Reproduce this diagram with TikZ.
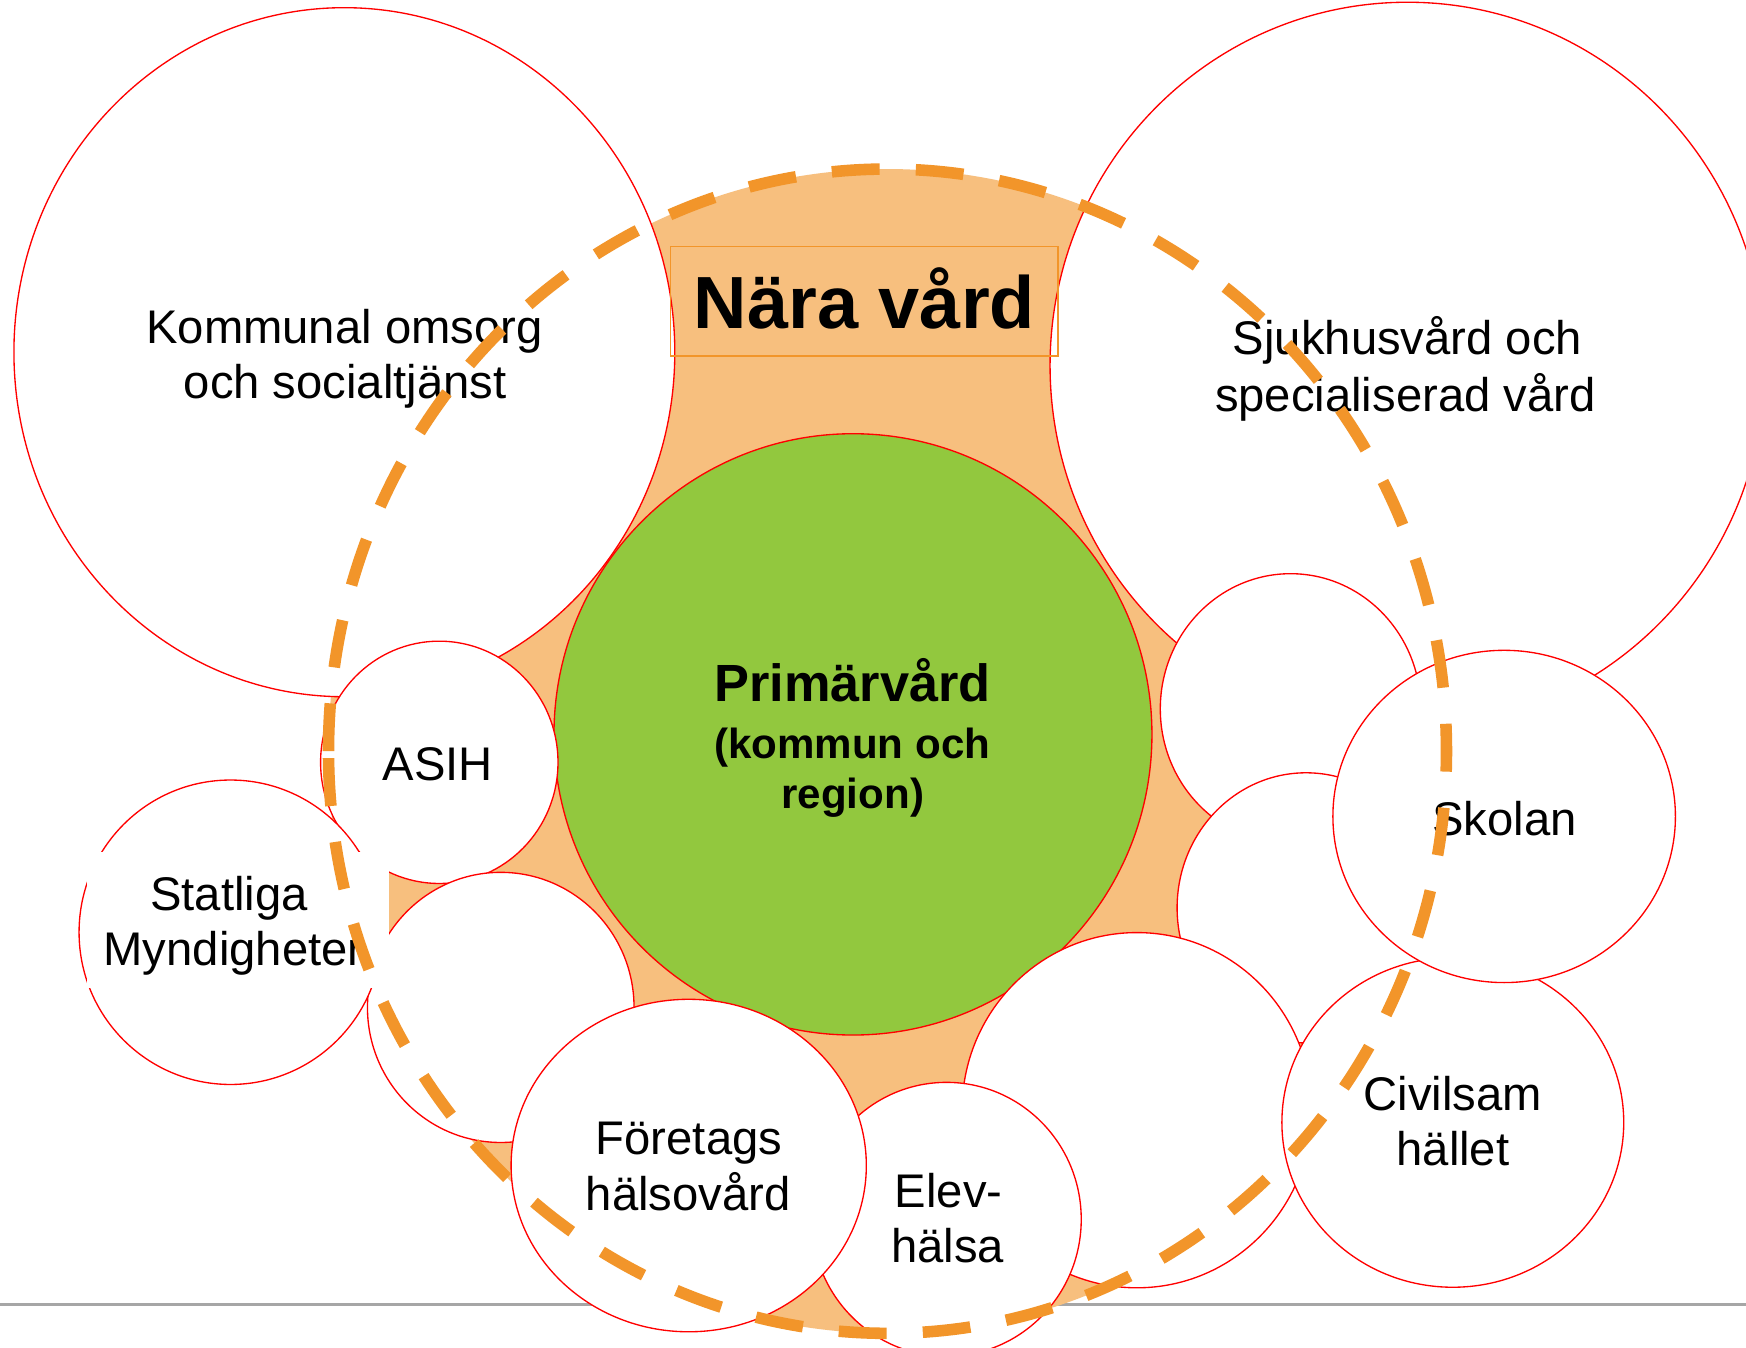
\documentclass[tikz,border=0pt]{standalone}
\usepackage{fontspec}
\setmainfont{Liberation Sans}
\usetikzlibrary{shapes.geometric}
\definecolor{bubred}{HTML}{FF0000}
\definecolor{primgreen}{HTML}{92C83E}
\definecolor{narafill}{HTML}{F7BF7E}
\definecolor{naradash}{HTML}{F2952A}
\definecolor{basegray}{HTML}{A6A6A6}
\begin{document}
\begin{tikzpicture}[x=0.5pt,y=-0.5pt,
  bubble/.style={ellipse, draw=bubred, line width=0.6pt, fill=white, inner sep=0pt, outer sep=0pt},
  lbl/.style={anchor=base, inner sep=0pt, font=\fontsize{21.2}{25}\selectfont},
  boldlbl/.style={anchor=base, inner sep=0pt, font=\fontsize{18.9}{22}\selectfont\bfseries},
  narastroke/.style={draw=naradash, line width=5.2pt, dash pattern=on 21.5pt off 16.25pt}]
\useasboundingbox (0,0) rectangle (1568,1210);
\fill[white] (0,0) rectangle (1568,1210);
% base line
\coordinate (gl) at (0,1171.4);
\coordinate (gr) at (1568,1171.4);
\draw[basegray, line width=1.3pt] (gl) -- (gr);
% orange area
\node[ellipse, fill=narafill, inner sep=0pt, outer sep=0pt, minimum width=502pt, minimum height=522.8pt] (naraedge) at (797,674.6) {};
% big circles
\node[bubble, minimum width=296.75pt, minimum height=309.4pt] (kommunal) at (309.25,316.3) {};
\node[bubble, minimum width=321pt, minimum height=326.3pt] (sjukhus) at (1264,328.3) {};
% title box
\node[draw=naradash, line width=0.6pt, inner sep=0pt, minimum width=173.9pt, minimum height=49.25pt] (narabox) at (776.3,270.45) {};
% green
\node[bubble, fill=primgreen, minimum width=268.5pt, minimum height=270pt] (primar) at (766,659.5) {};
% left small circles
\node[bubble, minimum width=106.6pt, minimum height=108.8pt] (asih) at (394.5,684.6) {};
\node[bubble, minimum width=119.7pt, minimum height=121.3pt] (blankleft) at (449.7,904.7) {};
\node[bubble, minimum width=136pt, minimum height=136.7pt] (statliga) at (207,837.2) {};
\node[fill=white, inner sep=0pt, minimum width=135.5pt, minimum height=61.1pt] (statbox) at (213.5,826.5) {};
% right small circles
\node[bubble, minimum width=117pt, minimum height=121.4pt] (blanktr) at (1159,636.6) {};
\node[bubble, minimum width=115.8pt, minimum height=121.3pt] (blankmr) at (1172.9,815.3) {};
\node[bubble, minimum width=157pt, minimum height=159.5pt] (blanklow) at (1021,997) {};
\node[bubble, minimum width=121pt, minimum height=123pt] (elev) at (850,1095) {};
\node[bubble, minimum width=159.5pt, minimum height=149.3pt] (foretag) at (618.5,1046.7) {};
\node[bubble, minimum width=153.5pt, minimum height=148pt] (civil) at (1304.7,1008) {};
\node[bubble, minimum width=153.8pt, minimum height=149.2pt] (skolan) at (1350.8,733.2) {};
% texts
\node[lbl] (kom1) at (309.3,308.4) {Kommunal omsorg};
\node[lbl] (kom2) at (310,357.7) {och socialtjänst};
\node[lbl] (sjuk1) at (1264,318) {Sjukhusvård och};
\node[lbl] (sjuk2) at (1262,369.3) {specialiserad vård};
\node[anchor=base, inner sep=0pt, font=\fontsize{33.2}{40}\selectfont\bfseries] (naratext) at (776.4,295.1) {Nära vård};
\node[anchor=base, inner sep=0pt, font=\fontsize{23.5}{28}\selectfont\bfseries] (prim1) at (765.7,629.6) {Primärvård};
\node[boldlbl] (prim2) at (765.3,681.1) {(kommun och};
\node[boldlbl] (prim3) at (765.8,725.7) {region)};
\node[lbl] (asihtext) at (393.3,701.2) {ASIH};
\node[lbl] (stat1) at (205.7,817.5) {Statliga};
\node[lbl] (stat2) at (209.7,867.5) {Myndigheter};
\node[lbl] (for1) at (618.8,1036.9) {Företags};
\node[lbl] (for2) at (618,1087.1) {hälsovård};
\node[lbl] (elev1) at (851.9,1084.7) {Elev-};
\node[lbl] (elev2) at (851.2,1134.2) {hälsa};
\node[lbl] (skoltext) at (1351,750) {Skolan};
\node[lbl] (civ1) at (1304.7,997.5) {Civilsam};
\node[lbl] (civ2) at (1304.8,1047) {hället};
% dashed outline
\draw[narastroke] (naraedge.west) arc[start angle=180, end angle=540, x radius=502, y radius=522.8];
\end{tikzpicture}
\end{document}
